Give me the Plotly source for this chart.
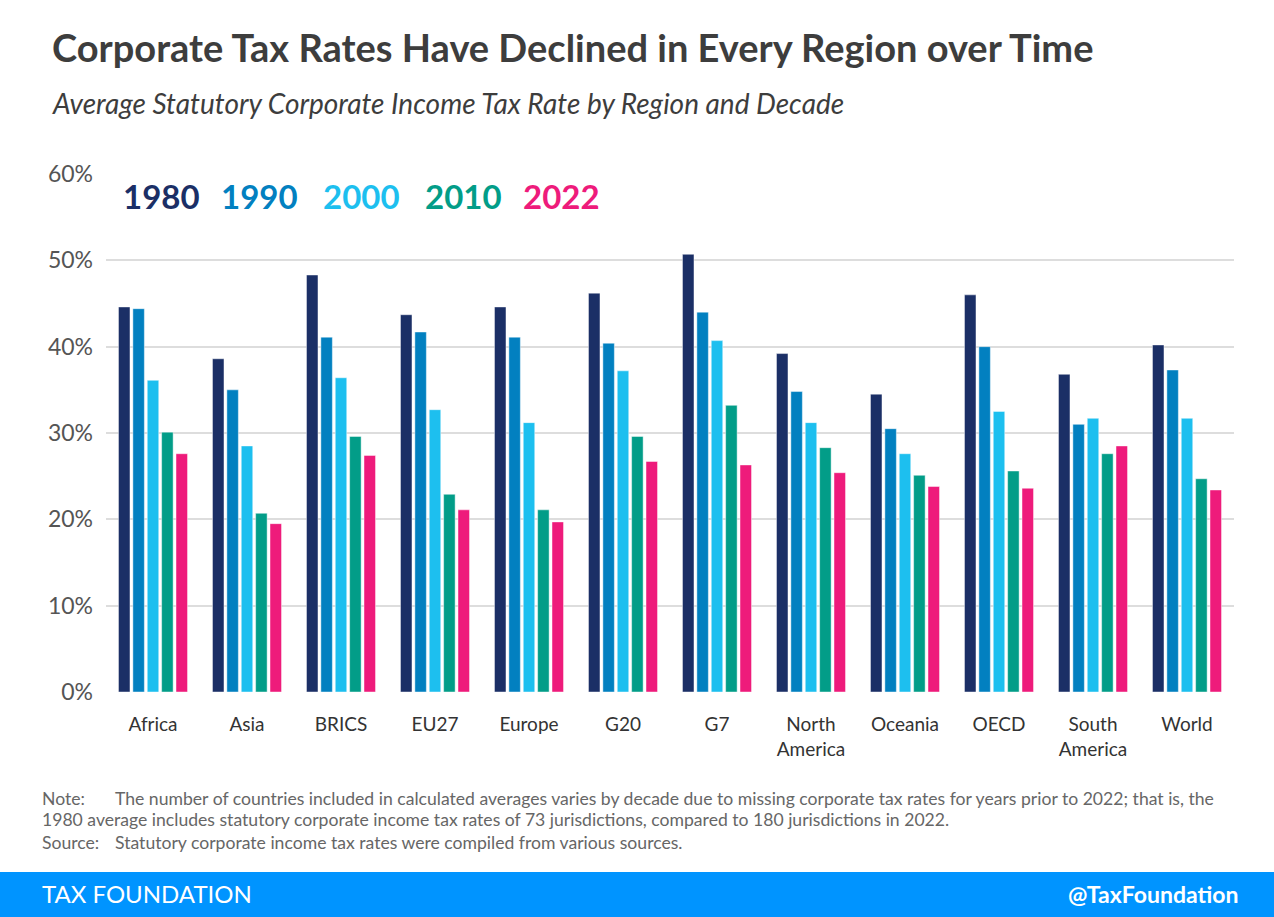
import plotly.graph_objects as go

regions = ["Africa", "Asia", "BRICS", "EU27", "Europe", "G20", "G7",
           "North<br>America", "Oceania", "OECD", "South<br>America", "World"]
years = ["1980", "1990", "2000", "2010", "2022"]
rate_1980 = [44.6, 38.6, 48.3, 43.7, 44.6, 46.2, 50.7, 39.2, 34.5, 46.0, 36.8, 40.2]
rate_1990 = [44.4, 35.0, 41.1, 41.7, 41.1, 40.4, 44.0, 34.8, 30.5, 40.0, 31.0, 37.3]
rate_2000 = [36.1, 28.5, 36.4, 32.7, 31.2, 37.2, 40.7, 31.2, 27.6, 32.5, 31.7, 31.7]
rate_2010 = [30.1, 20.7, 29.6, 22.9, 21.1, 29.6, 33.2, 28.3, 25.1, 25.6, 27.6, 24.7]
rate_2022 = [27.6, 19.5, 27.4, 21.1, 19.7, 26.7, 26.3, 25.4, 23.8, 23.6, 28.5, 23.4]
series = [rate_1980, rate_1990, rate_2000, rate_2010, rate_2022]
colors = ["#1b2f66", "#0280c0", "#1dbfef", "#029d88", "#ee1b7b"]
y_ticks = [0, 10, 20, 30, 40, 50, 60]
y_tick_text = ["0%", "10%", "20%", "30%", "40%", "50%", "60%"]

W, H = 1274, 917
L, R, T, B = 106, 40, 174, 225
PW, PH = W - L - R, H - T - B


def px(x):
    return (x - L) / PW


def py(y):
    return (H - B - y) / PH


FONT = "Lato"
fig = go.Figure()
for name, vals, col in zip(years, series, colors):
    fig.add_trace(go.Bar(x=regions, y=vals, name=name, marker_color=col,
                         marker_line_width=1, marker_line_color="rgba(255,255,255,0.45)",
                         showlegend=False))

fig.update_layout(
    width=W, height=H,
    margin=dict(l=L, r=R, t=T, b=B, pad=0),
    paper_bgcolor="white", plot_bgcolor="white",
    barmode="group", bargap=0.235, bargroupgap=0.2,
    font=dict(family=FONT, color="#333333"),
    yaxis=dict(range=[0, 60], tickvals=y_ticks, ticktext=y_tick_text,
               showgrid=True, gridcolor="#dddddd", gridwidth=1.5,
               zeroline=False, showline=False,
               tickfont=dict(size=23, color="#555555", family=FONT),
               ticklabelstandoff=12),
    xaxis=dict(showgrid=False, showline=False, zeroline=False,
               tickfont=dict(size=19, color="#333333", family=FONT),
               ticklabelstandoff=19),
)

fig.add_shape(type="rect", xref="paper", yref="paper",
              x0=px(0), x1=px(W), y0=py(917), y1=py(872),
              fillcolor="#0094ff", line_width=0, layer="above")

ann = []
ann.append(dict(text="<b>Corporate Tax Rates Have Declined in Every Region over Time</b>",
                x=px(50), y=py(47), xanchor="left", yanchor="middle",
                font=dict(size=38, color="#3d3d3d", family=FONT)))
ann.append(dict(text="<i>Average Statutory Corporate Income Tax Rate by Region and Decade</i>",
                x=px(50), y=py(103), xanchor="left", yanchor="middle",
                font=dict(size=28, color="#3d3d3d", family=FONT)))
legend_x = [121, 219, 321, 423, 521]
for name, col, lx in zip(years, colors, legend_x):
    ann.append(dict(text="<b>" + name + "</b>", x=px(lx), y=py(196),
                    xanchor="left", yanchor="middle",
                    font=dict(size=33, color=col, family=FONT)))
note_col = "#666666"
NS = 17.6
ann.append(dict(text="Note:", x=px(40), y=py(798), xanchor="left", yanchor="middle",
                font=dict(size=NS, color=note_col, family=FONT)))
ann.append(dict(text="The number of countries included in calculated averages varies by decade due to missing corporate tax rates for years prior to 2022; that is, the",
                x=px(113), y=py(798), xanchor="left", yanchor="middle",
                font=dict(size=NS, color=note_col, family=FONT)))
ann.append(dict(text="1980 average includes statutory corporate income tax rates of 73 jurisdictions, compared to 180 jurisdictions in 2022.",
                x=px(40), y=py(819), xanchor="left", yanchor="middle",
                font=dict(size=NS, color=note_col, family=FONT)))
ann.append(dict(text="Source:", x=px(40), y=py(842), xanchor="left", yanchor="middle",
                font=dict(size=NS, color=note_col, family=FONT)))
ann.append(dict(text="Statutory corporate income tax rates were compiled from various sources.",
                x=px(113), y=py(842), xanchor="left", yanchor="middle",
                font=dict(size=NS, color=note_col, family=FONT)))
ann.append(dict(text="TAX FOUNDATION", x=px(40), y=py(894), xanchor="left", yanchor="middle",
                font=dict(size=24, color="white", family=FONT)))
ann.append(dict(text="<b>@TaxFoundation</b>", x=px(1240), y=py(894), xanchor="right", yanchor="middle",
                font=dict(size=23, color="white", family=FONT)))
for a in ann:
    a.update(xref="paper", yref="paper", showarrow=False)
fig.update_layout(annotations=ann)

fig.write_html("out.html", config={"displayModeBar": False},
               post_script="document.body.style.margin='0';document.body.style.overflow='hidden';")
